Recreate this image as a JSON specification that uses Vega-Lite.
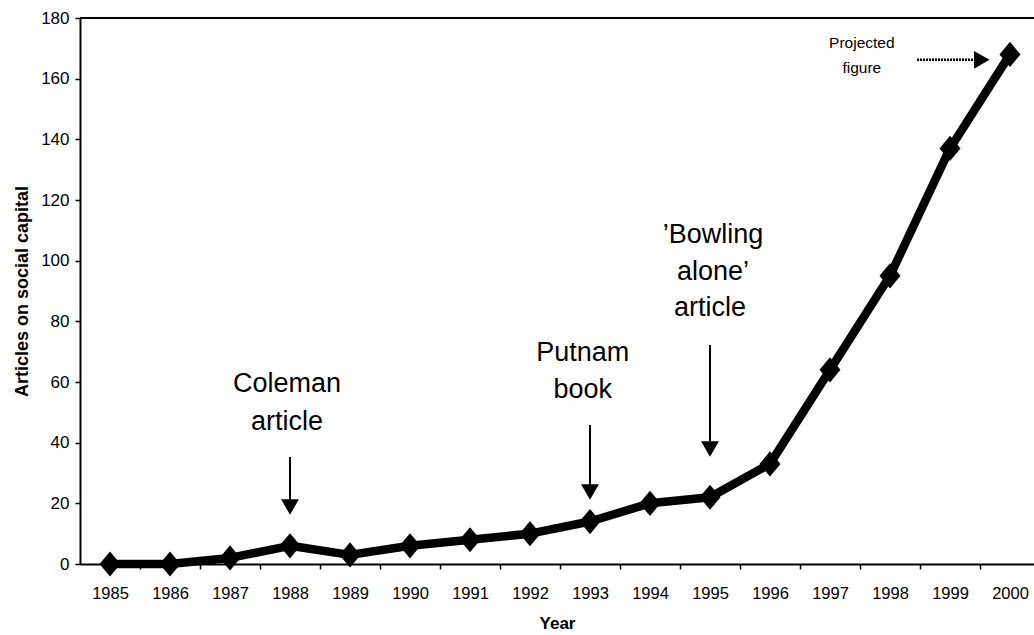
{
  "$schema": "https://vega.github.io/schema/vega-lite/v6.json",
  "autosize": {"type": "none"},
  "width": 954,
  "height": 546,
  "padding": {"left": 80, "top": 18, "right": 0, "bottom": 71},
  "background": "white",
  "config": {
    "font": "Liberation Sans",
    "view": {"stroke": null},
    "axis": {"domainColor": "black", "tickColor": "black", "labelColor": "black", "titleColor": "black", "domainWidth": 2, "tickWidth": 1.5, "tickSize": 5, "grid": false}
  },
  "datasets": {
    "series": [
      {"year": 1985, "articles": 0},
      {"year": 1986, "articles": 0},
      {"year": 1987, "articles": 2},
      {"year": 1988, "articles": 6},
      {"year": 1989, "articles": 3},
      {"year": 1990, "articles": 6},
      {"year": 1991, "articles": 8},
      {"year": 1992, "articles": 10},
      {"year": 1993, "articles": 14},
      {"year": 1994, "articles": 20},
      {"year": 1995, "articles": 22},
      {"year": 1996, "articles": 33},
      {"year": 1997, "articles": 64},
      {"year": 1998, "articles": 95},
      {"year": 1999, "articles": 137},
      {"year": 2000, "articles": 168}
    ],
    "notes": [
      {"kind": "event", "year": 1987.95, "articles": 59.3, "text": "Coleman"},
      {"kind": "event", "year": 1987.95, "articles": 46.8, "text": "article"},
      {"kind": "event", "year": 1992.88, "articles": 69.6, "text": "Putnam"},
      {"kind": "event", "year": 1992.88, "articles": 57.4, "text": "book"},
      {"kind": "event", "year": 1995.05, "articles": 108.5, "text": "’Bowling"},
      {"kind": "event", "year": 1995.05, "articles": 96.3, "text": "alone’"},
      {"kind": "event", "year": 1995.0, "articles": 84.4, "text": "article"},
      {"kind": "projection", "year": 1997.53, "articles": 171.8, "text": "Projected"},
      {"kind": "projection", "year": 1997.53, "articles": 163.5, "text": "figure"}
    ],
    "arrows": [
      {"year": 1988, "top": 35.3, "bottom": 21, "head": 18.8},
      {"year": 1993, "top": 45.8, "bottom": 26, "head": 23.7},
      {"year": 1995, "top": 72.2, "bottom": 40.5, "head": 37.9}
    ],
    "projArrow": [
      {"start": 1998.45, "end": 1999.45, "head": 1999.53, "articles": 166.2}
    ]
  },
  "layer": [
    {
      "data": {"values": [{"top": 180}]},
      "mark": {"type": "rule", "color": "black", "strokeWidth": 2},
      "encoding": {"y": {"field": "top", "type": "quantitative"}}
    },
    {
      "data": {"name": "series"},
      "mark": {"type": "line", "color": "black", "strokeWidth": 8.5, "strokeJoin": "round"},
      "encoding": {
        "x": {
          "field": "year", "type": "quantitative",
          "scale": {"domain": [1984.5, 2000.4], "nice": false, "zero": false},
          "axis": {
            "title": "Year", "titleFontSize": 17, "titleFontWeight": "bold", "titlePadding": 14,
            "values": [1985, 1986, 1987, 1988, 1989, 1990, 1991, 1992, 1993, 1994, 1995, 1996, 1997, 1998, 1999, 2000],
            "format": "d", "labelFontSize": 16.5, "labelPadding": 16,
            "tickOffset": 30, "labelOffset": -30, "labelFlush": false, "labelOverlap": false
          }
        },
        "y": {
          "field": "articles", "type": "quantitative",
          "scale": {"domain": [0, 180], "nice": false},
          "axis": {
            "title": "Articles on social capital", "titleFontSize": 18, "titleFontWeight": "bold", "titlePadding": 9,
            "values": [0, 20, 40, 60, 80, 100, 120, 140, 160, 180],
            "labelFontSize": 17, "labelPadding": 6
          }
        }
      }
    },
    {
      "data": {"name": "series"},
      "mark": {"type": "point", "shape": "M0,-1.2L1,0L0,1.2L-1,0Z", "filled": true, "color": "black", "size": 441, "opacity": 1},
      "encoding": {
        "x": {"field": "year", "type": "quantitative"},
        "y": {"field": "articles", "type": "quantitative"}
      }
    },
    {
      "data": {"name": "arrows"},
      "mark": {"type": "rule", "color": "black", "strokeWidth": 2},
      "encoding": {
        "x": {"field": "year", "type": "quantitative"},
        "y": {"field": "top", "type": "quantitative"},
        "y2": {"field": "bottom"}
      }
    },
    {
      "data": {"name": "arrows"},
      "mark": {"type": "point", "shape": "triangle-down", "filled": true, "color": "black", "size": 320, "opacity": 1},
      "encoding": {
        "x": {"field": "year", "type": "quantitative"},
        "y": {"field": "head", "type": "quantitative"}
      }
    },
    {
      "data": {"name": "projArrow"},
      "mark": {"type": "rule", "color": "black", "strokeWidth": 2.5, "strokeDash": [2, 1]},
      "encoding": {
        "x": {"field": "start", "type": "quantitative"},
        "x2": {"field": "end"},
        "y": {"field": "articles", "type": "quantitative"}
      }
    },
    {
      "data": {"name": "projArrow"},
      "mark": {"type": "point", "shape": "triangle-right", "filled": true, "color": "black", "size": 320, "opacity": 1},
      "encoding": {
        "x": {"field": "head", "type": "quantitative"},
        "y": {"field": "articles", "type": "quantitative"}
      }
    },
    {
      "data": {"name": "notes"},
      "transform": [{"filter": "datum.kind === 'event'"}],
      "mark": {"type": "text", "fontSize": 27, "color": "black", "align": "center", "baseline": "middle"},
      "encoding": {
        "x": {"field": "year", "type": "quantitative"},
        "y": {"field": "articles", "type": "quantitative"},
        "text": {"field": "text"}
      }
    },
    {
      "data": {"name": "notes"},
      "transform": [{"filter": "datum.kind === 'projection'"}],
      "mark": {"type": "text", "fontSize": 15.5, "color": "black", "align": "center", "baseline": "middle"},
      "encoding": {
        "x": {"field": "year", "type": "quantitative"},
        "y": {"field": "articles", "type": "quantitative"},
        "text": {"field": "text"}
      }
    }
  ]
}
